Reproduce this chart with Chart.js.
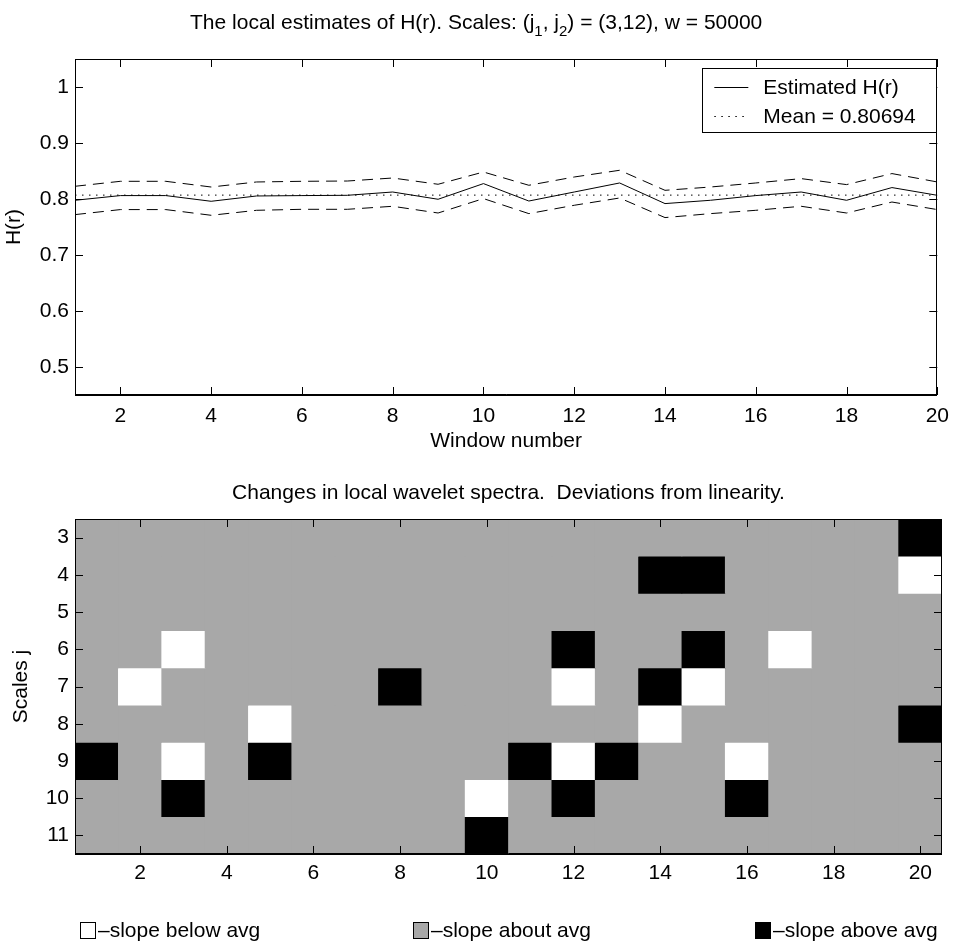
<!DOCTYPE html>
<html>
<head>
<meta charset="utf-8">
<script src="https://cdn.jsdelivr.net/npm/chart.js@4.4.0/dist/chart.umd.min.js"></script>
<style>
  body { margin: 0; background: #fff; }
  #wrap { position: relative; width: 958px; height: 948px; }
  canvas { position: absolute; left: 0; }
</style>
</head>
<body>
<div id="wrap">
  <canvas id="topChart" width="958" height="460" style="top:0"></canvas>
  <canvas id="bottomChart" width="958" height="488" style="top:460px"></canvas>
</div>
<script>
// ---- dados do gráfico de cima ----
const windows = [1, 2, 3, 4, 5, 6, 7, 8, 9, 10, 11, 12, 13, 14, 15, 16, 17, 18, 19, 20];
const hEstimate = [0.7977, 0.8061, 0.8061, 0.7959, 0.8054, 0.8061, 0.8066, 0.8125, 0.7995, 0.8275,
                   0.7964, 0.8125, 0.8286, 0.7918, 0.7977, 0.8061, 0.8125, 0.7977, 0.8204, 0.8066];
const hUpper = [0.8227, 0.8316, 0.8316, 0.8214, 0.8304, 0.8316, 0.8321, 0.8375, 0.8263, 0.8482,
                0.8245, 0.8393, 0.8513, 0.8155, 0.8214, 0.8286, 0.8364, 0.8257, 0.8454, 0.8304];
const hLower = [0.7721, 0.7811, 0.7811, 0.7709, 0.7798, 0.7816, 0.7816, 0.7870, 0.7750, 0.8007,
                0.7739, 0.7888, 0.8018, 0.7668, 0.7739, 0.7798, 0.7870, 0.7750, 0.7946, 0.7811];
const meanH = 0.80694;
const topXTicks = [2, 4, 6, 8, 10, 12, 14, 16, 18, 20];
const topYTicks = [0.5, 0.6, 0.7, 0.8, 0.9, 1];

// ---- dados do gráfico de baixo (-1 abaixo, 0 na média, 1 acima) ----
const scalesJ = [3, 4, 5, 6, 7, 8, 9, 10, 11];
const slopeFlags = [
  [0, 0, 0, 0, 0, 0, 0, 0, 0, 0, 0, 0, 0, 0, 0, 0, 0, 0, 0, 1],
  [0, 0, 0, 0, 0, 0, 0, 0, 0, 0, 0, 0, 0, 1, 1, 0, 0, 0, 0, -1],
  [0, 0, 0, 0, 0, 0, 0, 0, 0, 0, 0, 0, 0, 0, 0, 0, 0, 0, 0, 0],
  [0, 0, -1, 0, 0, 0, 0, 0, 0, 0, 0, 1, 0, 0, 1, 0, -1, 0, 0, 0],
  [0, -1, 0, 0, 0, 0, 0, 1, 0, 0, 0, -1, 0, 1, -1, 0, 0, 0, 0, 0],
  [0, 0, 0, 0, -1, 0, 0, 0, 0, 0, 0, 0, 0, -1, 0, 0, 0, 0, 0, 1],
  [1, 0, -1, 0, 1, 0, 0, 0, 0, 0, 1, -1, 1, 0, 0, -1, 0, 0, 0, 0],
  [0, 0, 1, 0, 0, 0, 0, 0, 0, -1, 0, 1, 0, 0, 0, 1, 0, 0, 0, 0],
  [0, 0, 0, 0, 0, 0, 0, 0, 0, 1, 0, 0, 0, 0, 0, 0, 0, 0, 0, 0]
];
const bottomXTicks = [2, 4, 6, 8, 10, 12, 14, 16, 18, 20];
const slopeKinds = [-1, 0, 1];
const slopeLabels = ['\u2013slope below avg', '\u2013slope about avg', '\u2013slope above avg'];
const slopeColors = { '-1': '#ffffff', '0': '#a8a8a8', '1': '#000000' };

const FONT = '"Liberation Sans", Arial, Helvetica, sans-serif';
Chart.defaults.font.family = FONT;
Chart.defaults.font.size = 21;
Chart.defaults.color = '#000';

// Caixa com marcas para dentro (estilo MATLAB)
const boxTicks = {
  id: 'boxTicks',
  afterDatasetsDraw(chart, args, opts) {
    const { ctx, chartArea: a } = chart;
    const x = chart.scales.x, y = chart.scales.y;
    const len = opts.len || 8;
    ctx.save();
    ctx.strokeStyle = '#000';
    ctx.lineWidth = 1;
    ctx.beginPath();
    x.ticks.forEach(t => {
      const px = Math.round(x.getPixelForValue(t.value)) + 0.5;
      ctx.moveTo(px, a.bottom); ctx.lineTo(px, a.bottom - len);
      ctx.moveTo(px, a.top); ctx.lineTo(px, a.top + len);
    });
    y.ticks.forEach(t => {
      const py = Math.round(y.getPixelForValue(t.value)) + 0.5;
      ctx.moveTo(a.left, py); ctx.lineTo(a.left + len, py);
      ctx.moveTo(a.right, py); ctx.lineTo(a.right - len, py);
    });
    // linha de baixo um pouco mais grossa, como no original
    ctx.moveTo(a.left, Math.round(a.bottom) - 0.5);
    ctx.lineTo(a.right, Math.round(a.bottom) - 0.5);
    ctx.stroke();
    ctx.strokeRect(Math.round(a.left) + 0.5, Math.round(a.top) + 0.5,
                   Math.round(a.right - a.left) - 1, Math.round(a.bottom - a.top));
    ctx.restore();
  }
};

// Título com índices (j1, j2)
const figTitle = {
  id: 'figTitle',
  afterDraw(chart, args, opts) {
    if (!opts.parts) return;
    const { ctx, chartArea: a } = chart;
    const big = '21px ' + FONT, small = '15px ' + FONT;
    ctx.save();
    ctx.fillStyle = '#000';
    ctx.textBaseline = 'alphabetic';
    let total = 0;
    opts.parts.forEach(p => { ctx.font = p.sub ? small : big; total += ctx.measureText(p.text).width; });
    let cx = (a.left + a.right) / 2 + (opts.shift || 0) - total / 2;
    opts.parts.forEach(p => {
      ctx.font = p.sub ? small : big;
      ctx.fillText(p.text, cx, opts.y + (p.sub ? 7 : 0));
      cx += ctx.measureText(p.text).width;
    });
    ctx.restore();
  }
};

// Legenda dentro da área do gráfico
const insideLegend = {
  id: 'insideLegend',
  afterDraw(chart, args, opts) {
    if (!opts.items) return;
    const { ctx, chartArea: a } = chart;
    const right = a.right - 1, left = right - 234, top = a.top + 9, bottom = top + 64;
    ctx.save();
    ctx.fillStyle = '#fff';
    ctx.fillRect(left, top, right - left, bottom - top);
    ctx.strokeStyle = '#000';
    ctx.lineWidth = 1;
    ctx.strokeRect(Math.round(left) + 0.5, Math.round(top) + 0.5, Math.round(right - left), Math.round(bottom - top));
    ctx.font = '21px ' + FONT;
    ctx.textBaseline = 'middle';
    opts.items.forEach((idx, k) => {
      const ds = chart.data.datasets[idx];
      const yy = Math.round(top + 19 + k * 29) + 0.5;
      ctx.setLineDash(ds.borderDash || []);
      ctx.strokeStyle = ds.borderColor;
      ctx.beginPath();
      ctx.moveTo(left + 12, yy); ctx.lineTo(left + 46, yy);
      ctx.stroke();
      ctx.setLineDash([]);
      ctx.fillStyle = '#000';
      ctx.fillText(ds.label, left + 61, yy + 1);
    });
    ctx.restore();
  }
};

// Fundo cinza da área do mapa (evita emendas entre células)
const areaFill = {
  id: 'areaFill',
  beforeDatasetsDraw(chart, args, opts) {
    if (!opts.color) return;
    const { ctx, chartArea: a } = chart;
    ctx.save();
    ctx.fillStyle = opts.color;
    ctx.fillRect(a.left, a.top, a.right - a.left, a.bottom - a.top);
    ctx.restore();
  }
};

// Legenda de baixo com quadradinhos
const swatchLegend = {
  id: 'swatchLegend',
  afterDraw(chart, args, opts) {
    if (!opts.x) return;
    const ctx = chart.ctx;
    ctx.save();
    ctx.font = '21px ' + FONT;
    ctx.textBaseline = 'middle';
    slopeKinds.forEach((k, i) => {
      const x0 = opts.x[i];
      ctx.fillStyle = slopeColors[k];
      ctx.fillRect(x0, opts.y - 8, 16, 17);
      ctx.strokeStyle = '#000';
      ctx.lineWidth = 1;
      ctx.strokeRect(x0 + 0.5, opts.y - 8 + 0.5, 15, 16);
      ctx.fillStyle = '#000';
      ctx.fillText(slopeLabels[i], x0 + 18, opts.y + 1);
    });
    ctx.restore();
  }
};

Chart.register(boxTicks, figTitle, insideLegend, areaFill, swatchLegend);

const pts = arr => windows.map((w, i) => ({ x: w, y: arr[i] }));

// Gráfico de cima
new Chart(document.getElementById('topChart'), {
  type: 'line',
  data: {
    datasets: [
      { label: 'Estimated H(r)', data: pts(hEstimate), borderColor: '#000', borderWidth: 1 },
      { label: 'Mean = ' + meanH, data: windows.map(w => ({ x: w, y: meanH })),
        borderColor: '#000', borderWidth: 1, borderDash: [1.5, 5.5] },
      { label: 'upper', data: pts(hUpper), borderColor: '#000', borderWidth: 1, borderDash: [11, 7] },
      { label: 'lower', data: pts(hLower), borderColor: '#000', borderWidth: 1, borderDash: [11, 7] }
    ]
  },
  options: {
    responsive: false,
    animation: false,
    devicePixelRatio: 1,
    events: [],
    elements: { point: { radius: 0 }, line: { tension: 0 } },
    layout: { padding: { top: 59, right: 16, left: 0, bottom: 0 } },
    plugins: {
      legend: { display: false },
      tooltip: { enabled: false },
      figTitle: {
        y: 29,
        shift: -30,
        parts: [
          { text: 'The local estimates of H(r). Scales: (j' },
          { text: '1', sub: true },
          { text: ', j' },
          { text: '2', sub: true },
          { text: ') = (3,12), w = 50000' }
        ]
      },
      insideLegend: { items: [0, 1] },
      boxTicks: { len: 8 }
    },
    scales: {
      x: {
        type: 'linear', min: 1, max: 20,
        grid: { display: false, drawTicks: false },
        border: { display: false },
        ticks: { padding: 9, callback: v => String(v) },
        afterBuildTicks: s => { s.ticks = topXTicks.map(v => ({ value: v })); },
        afterFit: s => { s.height = 65; },
        title: { display: true, text: 'Window number', padding: { top: 0, bottom: 6 } }
      },
      y: {
        type: 'linear', min: 0.45, max: 1.05,
        grid: { display: false, drawTicks: false },
        border: { display: false },
        ticks: { padding: 6, callback: v => String(v) },
        afterBuildTicks: s => { s.ticks = topYTicks.map(v => ({ value: v })); },
        afterFit: s => { s.width = 75; },
        title: { display: true, text: 'H(r)', padding: { top: 2, bottom: 0 } }
      }
    }
  }
});

// Gráfico de baixo (mapa de células com barras flutuantes)
const cellSets = scalesJ.map((j, r) => ({
  label: 'j = ' + j,
  data: windows.map(w => ({ x: w, y: [j - 0.5, j + 0.5] })),
  backgroundColor: slopeFlags[r].map(f => slopeColors[f]),
  borderWidth: 0,
  barPercentage: 1,
  categoryPercentage: 1,
  grouped: false
}));

new Chart(document.getElementById('bottomChart'), {
  type: 'bar',
  data: { datasets: cellSets },
  options: {
    responsive: false,
    animation: false,
    devicePixelRatio: 1,
    events: [],
    layout: { padding: { top: 59, right: 16, left: 0, bottom: 0 } },
    plugins: {
      legend: { display: false },
      tooltip: { enabled: false },
      figTitle: {
        y: 39,
        parts: [{ text: 'Changes in local wavelet spectra.  Deviations from linearity.' }]
      },
      areaFill: { color: slopeColors['0'] },
      swatchLegend: { x: [80, 413, 755], y: 470 },
      boxTicks: { len: 8 }
    },
    scales: {
      x: {
        type: 'linear', min: 0.5, max: 20.5, offset: false,
        grid: { display: false, drawTicks: false, offset: false },
        border: { display: false },
        ticks: { padding: 7, callback: v => String(v) },
        afterBuildTicks: s => { s.ticks = bottomXTicks.map(v => ({ value: v })); },
        afterFit: s => { s.height = 94; }
      },
      y: {
        type: 'linear', min: 2.5, max: 11.5, reverse: true,
        grid: { display: false, drawTicks: false },
        border: { display: false },
        ticks: { padding: 6, callback: v => String(v) },
        afterBuildTicks: s => { s.ticks = scalesJ.map(v => ({ value: v })); },
        afterFit: s => { s.width = 75; },
        title: { display: true, text: 'Scales j', padding: { top: 9, bottom: 0 } }
      }
    }
  }
});
</script>
</body>
</html>
